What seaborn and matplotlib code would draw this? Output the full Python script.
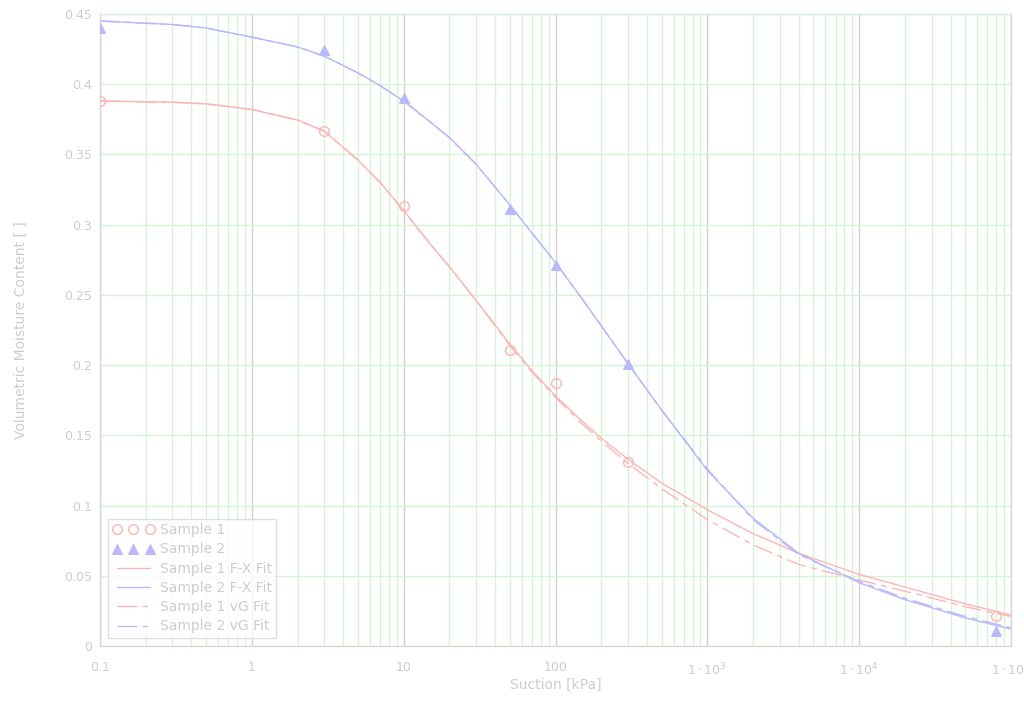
import math
import matplotlib
matplotlib.use("Agg")
import matplotlib.pyplot as plt
import matplotlib.ticker as mticker
import seaborn as sns

# measured points
suction_pts = [0.1, 3, 10, 50, 100, 300, 80000]
sample1 = [0.388, 0.367, 0.313, 0.211, 0.187, 0.131, 0.021]
sample2 = [0.440, 0.424, 0.390, 0.311, 0.271, 0.201, 0.011]

# fitted curves
suction_fit = [0.1, 0.3, 0.5, 1, 2, 3, 5, 7, 10, 15, 20, 30, 50, 70, 100, 150, 200,
               300, 500, 1000, 2000, 4000, 10000, 20000, 50000, 100000]
s1_fx = [0.388, 0.3872, 0.386, 0.382, 0.3745, 0.3665, 0.346, 0.330, 0.310, 0.286,
         0.270, 0.246, 0.215, 0.196, 0.178, 0.160, 0.148, 0.133, 0.116, 0.097,
         0.080, 0.066, 0.051, 0.042, 0.030, 0.022]
s2_fx = [0.445, 0.4425, 0.440, 0.4335, 0.4265, 0.420, 0.408, 0.399, 0.388, 0.373,
         0.362, 0.343, 0.314, 0.294, 0.273, 0.247, 0.228, 0.201, 0.168, 0.125,
         0.091, 0.066, 0.045, 0.033, 0.020, 0.012]
s1_vg = [0.388, 0.3872, 0.386, 0.382, 0.3745, 0.3665, 0.346, 0.330, 0.310, 0.286,
         0.270, 0.246, 0.214, 0.195, 0.177, 0.158, 0.146, 0.130, 0.112, 0.090,
         0.072, 0.058, 0.047, 0.039, 0.028, 0.021]
s2_vg = [0.445, 0.4425, 0.440, 0.4335, 0.4265, 0.420, 0.408, 0.399, 0.388, 0.373,
         0.362, 0.343, 0.314, 0.294, 0.273, 0.247, 0.228, 0.201, 0.168, 0.126,
         0.090, 0.065, 0.046, 0.034, 0.021, 0.013]

pink = "#ffb4b4"
blue = "#b8b8ff"
txt = "#cdcdcd"

sns.set_style("white")
plt.rcParams["font.family"] = ["DejaVu Sans"]
plt.rcParams["mathtext.default"] = "regular"

fig = plt.figure(figsize=(10.24, 7.2), dpi=100)
ax = fig.add_axes([0.0977, 0.1028, 0.8896, 0.8778])
ax.set_xscale("log")

sns.lineplot(x=suction_pts, y=sample1, ax=ax, marker="o", linestyle="",
             markerfacecolor="none", markeredgecolor=pink, markeredgewidth=1,
             markersize=7, color=pink, label="Sample 1", zorder=5)
sns.lineplot(x=suction_pts, y=sample2, ax=ax, marker="^", linestyle="",
             markerfacecolor=blue, markeredgecolor=blue, markersize=7.5,
             color=blue, label="Sample 2", zorder=5)
sns.lineplot(x=suction_fit, y=s1_fx, ax=ax, color=pink, lw=1, label="Sample 1 F-X Fit")
sns.lineplot(x=suction_fit, y=s2_fx, ax=ax, color=blue, lw=1, label="Sample 2 F-X Fit")
sns.lineplot(x=suction_fit, y=s1_vg, ax=ax, color=pink, lw=1, dashes=(14, 4, 4, 4),
             label="Sample 1 vG Fit")
sns.lineplot(x=suction_fit, y=s2_vg, ax=ax, color=blue, lw=1, dashes=(14, 4, 4, 4),
             label="Sample 2 vG Fit")

ax.set_xlim(0.1, 1e5)
ax.set_ylim(0, 0.45)

# grid: green minor + horizontal, gray decades
ax.xaxis.set_major_locator(mticker.LogLocator(base=10, numticks=10))
ax.xaxis.set_minor_locator(mticker.LogLocator(base=10, subs=range(2, 10), numticks=20))
ax.yaxis.set_major_locator(mticker.MultipleLocator(0.05))
ax.grid(True, which="minor", axis="x", color="#d4f5d4", lw=1)
ax.grid(True, which="major", axis="x", color="#d0d0d0", lw=1)
ax.grid(True, which="major", axis="y", color="#d4f5d4", lw=1)
ax.set_axisbelow(True)


def xfmt(v, pos):
    if v < 1000:
        return "%g" % v
    return r"$1\cdot10^{%d}$" % int(round(math.log10(v)))


ax.xaxis.set_major_formatter(mticker.FuncFormatter(xfmt))
ax.xaxis.set_minor_formatter(mticker.NullFormatter())
ax.yaxis.set_major_formatter(mticker.FuncFormatter(lambda v, p: "%g" % round(v, 2)))
ax.tick_params(axis="both", which="both", length=0, colors=txt, labelsize=9)
ax.tick_params(axis="x", pad=11)
ax.tick_params(axis="y", pad=6)

for s in ax.spines.values():
    s.set_color("#d8d8d8")
    s.set_linewidth(1)
ax.spines["top"].set_color("#d8ecd8")

ax.set_xlabel("Suction [kPa]", color=txt, fontsize=10, labelpad=0)
ax.set_ylabel("Volumetric Moisture Content [ ]", color=txt, fontsize=10, labelpad=26)

leg = ax.legend(loc="lower left", numpoints=3, fontsize=10, frameon=True,
                fancybox=False, borderaxespad=0.6, handlelength=3.0,
                handletextpad=0.4, labelspacing=0.38, borderpad=0.3)
leg.get_frame().set_edgecolor("#d8d8d8")
leg.get_frame().set_linewidth(1)
for t in leg.get_texts():
    t.set_color(txt)

fig.savefig("out.png", dpi=100)
